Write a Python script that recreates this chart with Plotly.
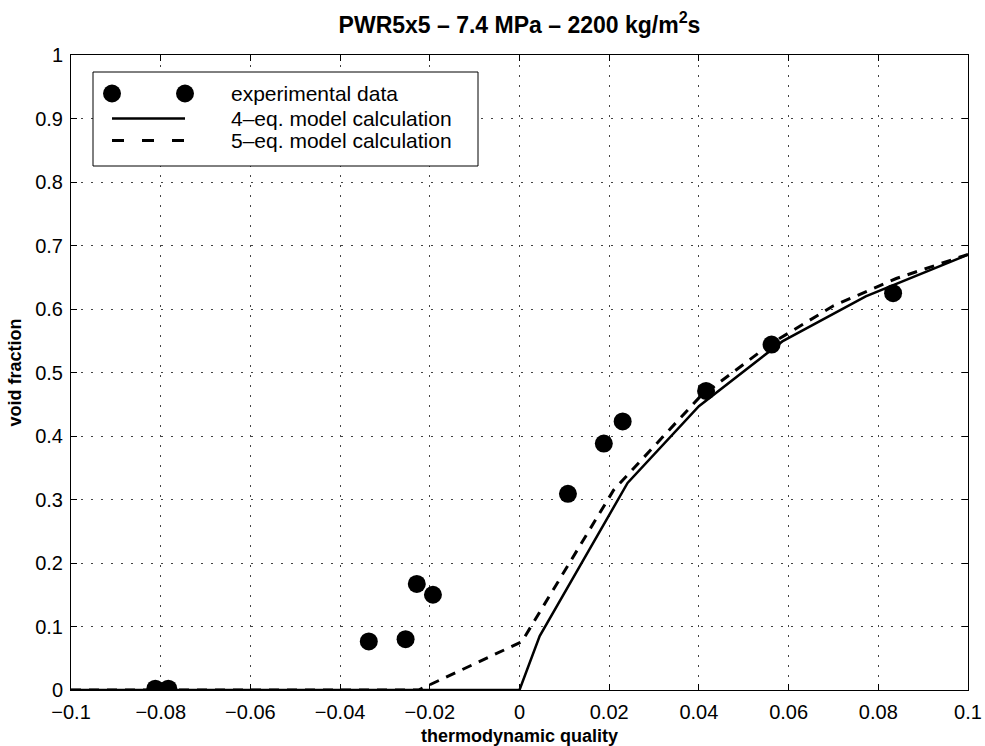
import plotly.graph_objects as go

# ---- data ----
exp_x = [-0.0812, -0.0783, -0.0336, -0.0254, -0.0229, -0.0193,
         0.0108, 0.0188, 0.0230, 0.0416, 0.0562, 0.0833]
exp_y = [0.002, 0.002, 0.0765, 0.080, 0.167, 0.150,
         0.309, 0.388, 0.423, 0.471, 0.544, 0.625]

eq4_x = [-0.1, 0.0, 0.0045, 0.0241, 0.0400, 0.0586, 0.0772, 0.1]
eq4_y = [0.0, 0.0, 0.085, 0.326, 0.447, 0.549, 0.620, 0.6855]

eq5_x = [-0.1, -0.0225, 0.0005, 0.0210, 0.0400, 0.0560, 0.0700, 0.0840, 0.1]
eq5_y = [0.0, 0.0, 0.076, 0.315, 0.460, 0.545, 0.605, 0.648, 0.686]

x_tickvals = [-0.1, -0.08, -0.06, -0.04, -0.02, 0, 0.02, 0.04, 0.06, 0.08, 0.1]
x_ticktext = ["\u22120.1", "\u22120.08", "\u22120.06", "\u22120.04", "\u22120.02", "0",
              "0.02", "0.04", "0.06", "0.08", "0.1"]
y_tickvals = [0, 0.1, 0.2, 0.3, 0.4, 0.5, 0.6, 0.7, 0.8, 0.9, 1]
y_ticktext = ["0", "0.1", "0.2", "0.3", "0.4", "0.5", "0.6", "0.7", "0.8", "0.9", "1"]

legend_labels = ["experimental data", "4\u2013eq. model calculation", "5\u2013eq. model calculation"]

title_text = "<b>PWR5x5 \u2013 7.4 MPa \u2013 2200 kg/m<sup>2</sup>s</b>"
xlabel = "<b>thermodynamic quality</b>"
ylabel = "<b>void fraction</b>"

FONT = "Liberation Sans, Arial, Helvetica, sans-serif"
W, H = 985, 746
L, R, T, B = 71, 17, 55, 56

fig = go.Figure()
fig.add_trace(go.Scatter(x=eq4_x, y=eq4_y, mode="lines",
                         line=dict(color="black", width=2.5),
                         showlegend=False, name=legend_labels[1]))
fig.add_trace(go.Scatter(x=eq5_x, y=eq5_y, mode="lines",
                         line=dict(color="black", width=3, dash="10px,8px"),
                         showlegend=False, name=legend_labels[2]))
fig.add_trace(go.Scatter(x=exp_x, y=exp_y, mode="markers",
                         marker=dict(color="black", size=18, line=dict(width=0)),
                         showlegend=False, name=legend_labels[0]))

axis_common = dict(
    showline=True, linecolor="black", linewidth=1, mirror="ticks",
    ticks="inside", ticklen=6, tickcolor="black", tickwidth=1,
    showgrid=True, gridcolor="#444", gridwidth=1, griddash="2px,8px",
    zeroline=False, automargin=False,
    tickfont=dict(family=FONT, size=20, color="black"),
)

fig.update_xaxes(range=[-0.1, 0.1], tickvals=x_tickvals, ticktext=x_ticktext,
                 ticklabelstandoff=4,
                 title=dict(text=xlabel, font=dict(family=FONT, size=18, color="black"),
                            standoff=8),
                 **axis_common)
fig.update_yaxes(range=[0, 1], tickvals=y_tickvals, ticktext=y_ticktext,
                 ticklabelstandoff=3,
                 title=dict(text=ylabel, font=dict(family=FONT, size=18, color="black"),
                            standoff=8),
                 **axis_common)

# ---- custom legend (MATLAB style) ----
pw, ph = W - L - R, H - T - B
def px(xp):
    return (xp - L) / pw
def py(yp):
    return (H - B - yp) / ph

shapes = []
shapes.append(dict(type="rect", xref="paper", yref="paper",
                   x0=px(93), x1=px(478), y0=py(166), y1=py(72),
                   line=dict(color="black", width=1), fillcolor="white", layer="above"))
row_y = [93.5, 118.5, 140.5]
for cx in (112, 185):
    shapes.append(dict(type="circle", xref="paper", yref="paper",
                       xsizemode="pixel", ysizemode="pixel",
                       xanchor=px(cx), yanchor=py(row_y[0]),
                       x0=-9, x1=9, y0=-9, y1=9,
                       fillcolor="black", line=dict(width=0), layer="above"))
shapes.append(dict(type="line", xref="paper", yref="paper",
                   x0=px(112), x1=px(185), y0=py(row_y[1]), y1=py(row_y[1]),
                   line=dict(color="black", width=2.5), layer="above"))
shapes.append(dict(type="line", xref="paper", yref="paper",
                   x0=px(112), x1=px(185), y0=py(row_y[2]), y1=py(row_y[2]),
                   line=dict(color="black", width=3, dash="12px,18px"), layer="above"))

annotations = []
for lbl, ry in zip(legend_labels, row_y):
    annotations.append(dict(text=lbl, xref="paper", yref="paper",
                            x=px(229), y=py(ry), xanchor="left", yanchor="middle",
                            showarrow=False,
                            font=dict(family=FONT, size=21, color="black")))

fig.update_layout(
    width=W, height=H,
    margin=dict(l=L, r=R, t=T, b=B),
    paper_bgcolor="white", plot_bgcolor="white",
    title=dict(text=title_text, x=(L + pw / 2) / W, xanchor="center",
               y=1 - 25 / H, yanchor="middle",
               font=dict(family=FONT, size=23, color="black")),
    shapes=shapes, annotations=annotations,
    showlegend=False,
)

fig.write_html("out.html")
